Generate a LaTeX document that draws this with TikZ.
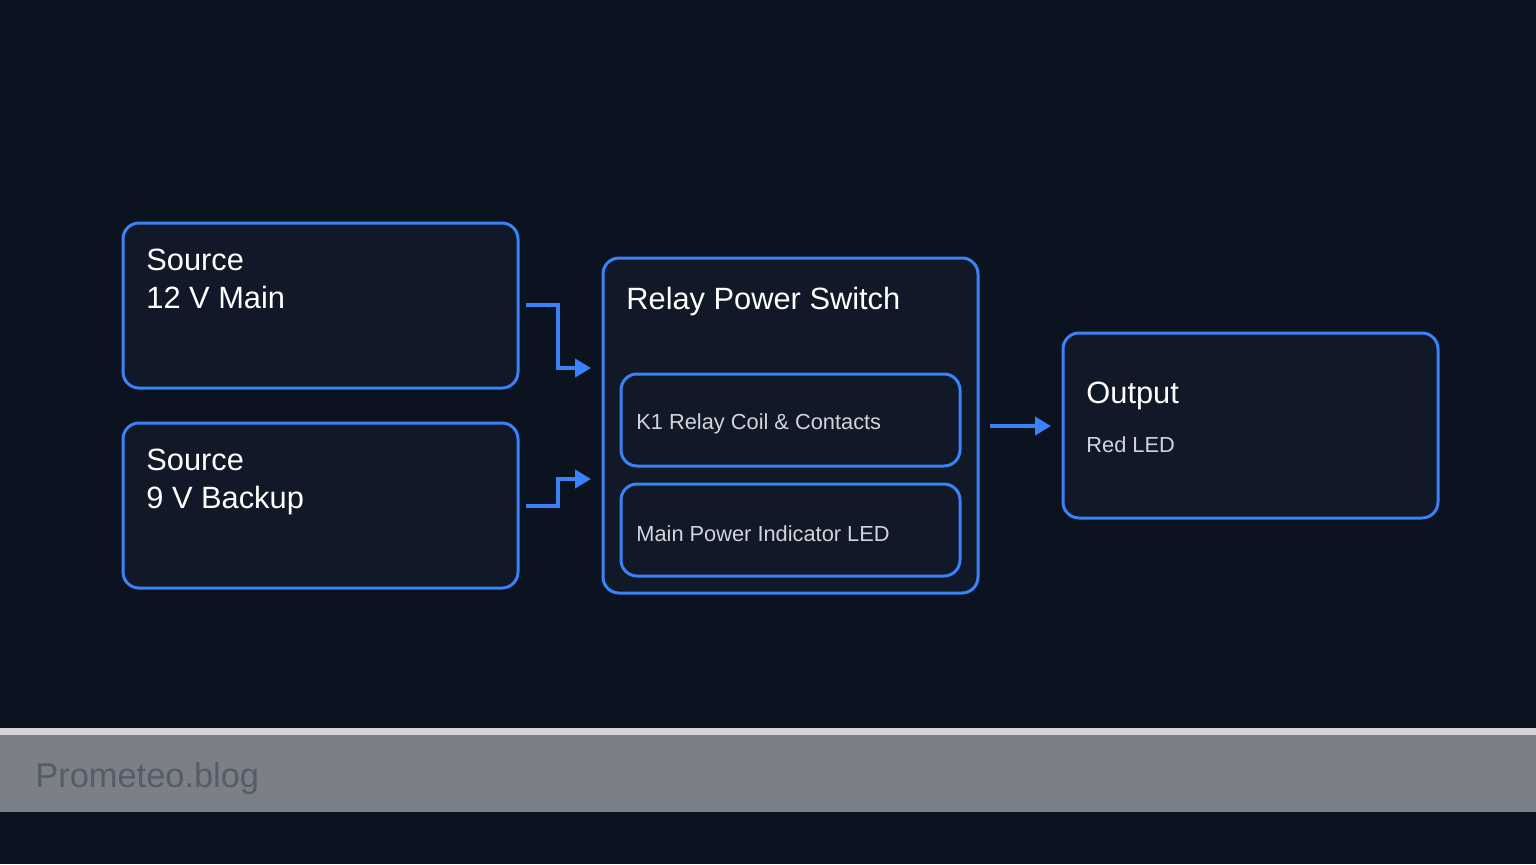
\documentclass[tikz,border=0pt]{standalone}
\usepackage{fontspec}
\setmainfont{Liberation Sans}
\usetikzlibrary{arrows.meta}
\definecolor{bg}{HTML}{0B1220}
\definecolor{boxfill}{HTML}{111827}
\definecolor{edge}{HTML}{3B82F6}
\definecolor{sub}{HTML}{D1D5DB}
\definecolor{band}{HTML}{7B7F87}
\definecolor{bandline}{HTML}{D4D4D8}
\definecolor{brand}{HTML}{565C66}
\begin{document}
\begin{tikzpicture}[x=0.5pt,y=-0.5pt,
  box/.style={draw=edge,fill=boxfill,line width=1.5pt,rounded corners=8pt,anchor=north west,inner sep=0pt},
  title/.style={anchor=base west,text=white,font=\fontsize{15.4}{18}\selectfont,inner sep=0pt},
  subt/.style={anchor=base west,text=sub,font=\fontsize{10.9}{13}\selectfont,inner sep=0pt},
  conn/.style={draw=edge,line width=2pt,-{Triangle[length=8pt,width=9pt]}}]
\fill[bg] (0,0) rectangle (1536,864);
\useasboundingbox (0,0) rectangle (1536,864);
\fill[bandline] (0,728) rectangle (1536,735);
\fill[band] (0,735) rectangle (1536,812);
\node[anchor=base west,text=brand,font=\fontsize{17.2}{20}\selectfont,inner sep=0pt] (brand) at (35,787) {Prometeo.blog};

\node[box,minimum width=197.5pt,minimum height=82.5pt] (s1) at (121.5,221.5) {};
\node[title] (s1a) at (146,270) {Source};
\node[title] (s1b) at (146,308) {12 V Main};
\node[box,minimum width=197.5pt,minimum height=82.5pt] (s2) at (121.5,421.5) {};
\node[title] (s2a) at (146,470) {Source};
\node[title] (s2b) at (146,508) {9 V Backup};

\node[box,minimum width=187.5pt,minimum height=167.5pt] (relay) at (601.5,256.5) {};
\node[title] (rt) at (626,309) {Relay Power Switch};
\node[box,minimum width=169.5pt,minimum height=46pt] (k1) at (619.5,372.5) {};
\node[subt] (k1t) at (636,429) {K1 Relay Coil \& Contacts};
\node[box,minimum width=169.5pt,minimum height=46pt] (led) at (619.5,482.5) {};
\node[subt] (ledt) at (636,541) {Main Power Indicator LED};

\node[box,minimum width=187.5pt,minimum height=92.5pt] (out) at (1061.5,331.5) {};
\node[title] (ot) at (1086,403) {Output};
\node[subt] (ost) at (1086,452) {Red LED};

\coordinate (a1) at (526,305); \coordinate (a1e) at (591,368);
\coordinate (a2) at (526,506); \coordinate (a2e) at (591,479);
\coordinate (a3) at (990,426); \coordinate (a3e) at (1051,426);
\draw[conn] (a1) -- (558,305) -- (558,368) -- (a1e);
\draw[conn] (a2) -- (558,506) -- (558,479) -- (a2e);
\draw[conn] (a3) -- (a3e);
\end{tikzpicture}
\end{document}
